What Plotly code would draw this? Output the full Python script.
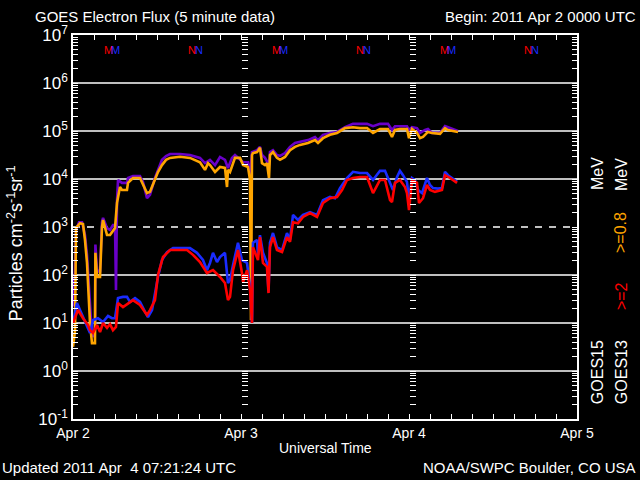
import pandas as pd
import plotly.graph_objects as go

# ---------------- data (hours after 2011-04-02 00:00 UT, flux) ----------------
START = "2011-04-02"
END = "2011-04-05"
day_labels = ["Apr 2", "Apr 3", "Apr 4", "Apr 5"]

goes15_08 = [(0, 87), (0.14, 22), (0.43, 870), (0.86, 1260), (1.29, 1260), (1.71, 680), (2.0, 260), (2.29, 49),
             (2.57, 11.5), (2.86, 5.1), (3.14, 7.1), (3.2, 430), (3.43, 126), (3.86, 115), (4.14, 1260), (4.29, 1550),
             (4.86, 950), (5.29, 870), (5.71, 1100), (6.0, 1100), (6.14, 49), (6.29, 3600), (6.43, 9500), (7.0, 8300),
             (7.71, 8300), (7.86, 10500), (8.57, 11500), (9.57, 11500), (10.0, 8700), (10.57, 4000), (11.0, 4700),
             (11.71, 10500), (12.14, 15500), (12.71, 25100), (13.29, 30200), (13.86, 33100), (15.29, 33100),
             (16.71, 31600), (18.14, 27500), (18.86, 21400), (19.57, 25100), (20.29, 19500), (21.0, 28800),
             (21.71, 25100), (22.14, 17000), (22.71, 27500), (23.14, 31600), (23.86, 25100), (24.29, 22400),
             (25.0, 22400), (25.29, 12000), (25.57, 36300), (26.29, 39800), (26.71, 46800), (27.0, 31600),
             (27.43, 27500), (28.0, 19500), (28.14, 36300), (28.57, 39800), (29.14, 31600), (29.57, 30200),
             (30.29, 34700), (31.0, 46800), (31.71, 56200), (32.43, 58900), (33.57, 64600), (34.57, 75000),
             (35.0, 64600), (35.71, 83200), (36.71, 91200), (37.71, 95500), (38.86, 120000), (40.0, 141000),
             (41.0, 141000), (42.0, 141000), (42.86, 126000), (43.86, 141000), (45.0, 141000), (45.57, 105000),
             (46.0, 126000), (46.71, 126000), (47.71, 126000), (48.0, 105000), (48.43, 120000), (49.14, 115000),
             (49.57, 91200), (50.29, 105000), (50.71, 110000), (51.29, 91200), (52.43, 91200), (53.14, 126000),
             (53.57, 120000), (55.0, 100000)]

goes13_08 = [(0, 3.2), (0.29, 7), (0.43, 950), (0.71, 1050), (1.0, 1200), (1.43, 1150), (1.71, 540), (2.0, 180),
             (2.29, 30), (2.43, 10), (2.71, 3.8), (3.14, 3.8), (3.2, 290), (3.43, 91), (3.86, 91), (4.14, 1000),
             (4.29, 1400), (4.86, 680), (5.29, 680), (5.57, 760), (6.0, 950), (6.29, 3200), (6.71, 6800), (7.0, 5900),
             (7.71, 5900), (7.86, 8300), (8.57, 10500), (9.57, 10500), (10.0, 7500), (10.57, 5100), (11.0, 5400),
             (11.71, 9500), (12.14, 14000), (12.71, 19500), (13.29, 25000), (13.86, 27500), (15.29, 29000),
             (16.71, 27500), (18.14, 22400), (18.86, 15500), (19.29, 21400), (19.57, 19500), (20.29, 14000),
             (21.0, 17800), (21.71, 17000), (22.0, 6800), (22.14, 15500), (22.43, 14000), (23.14, 27500),
             (23.86, 27500), (24.29, 19500), (25.0, 17800), (25.29, 9500), (25.43, 11.5), (25.57, 31600),
             (25.71, 34700), (26.29, 36300), (26.71, 44700), (27.0, 21400), (27.43, 19500), (27.71, 21400),
             (28.0, 10500), (28.14, 31600), (28.57, 36300), (29.14, 27500), (29.57, 25100), (30.29, 28800),
             (31.0, 39800), (31.71, 46800), (32.43, 51300), (33.57, 56200), (34.57, 64600), (35.0, 56200),
             (35.71, 70800), (36.71, 83200), (37.71, 91200), (38.86, 115000), (40.0, 120000), (41.0, 115000),
             (42.0, 115000), (42.86, 91200), (43.86, 110000), (45.0, 110000), (45.57, 75000), (46.0, 105000),
             (46.71, 110000), (47.71, 110000), (48.0, 70800), (48.43, 110000), (49.14, 91200), (49.57, 70800),
             (50.0, 75000), (50.71, 95500), (51.29, 91200), (52.43, 87100), (53.14, 115000), (53.57, 105000),
             (55.0, 95500)]

goes15_2 = [(0, 10), (0.57, 26), (1.0, 18.6), (1.43, 13.3), (2.14, 8.3), (2.43, 6.2), (2.86, 11.5), (3.57, 12.6),
            (4.29, 10.5), (5.0, 14), (5.57, 12.6), (6.0, 12.6), (6.43, 33), (7.14, 35), (7.71, 35), (8.14, 27.5),
            (8.86, 33), (9.57, 27.5), (10.29, 17), (10.71, 13.3), (11.29, 18.6), (11.71, 42), (12.14, 91),
            (12.71, 205), (13.43, 300), (14.29, 363), (15.29, 363), (16.71, 363), (17.71, 290), (18.57, 205),
            (19.14, 126), (19.57, 178), (20.0, 290), (20.57, 186), (21.0, 237), (21.71, 290), (22.14, 68),
            (22.43, 79), (22.86, 162), (23.57, 468), (24.14, 205), (24.86, 178), (25.29, 56), (25.57, 10),
            (25.71, 468), (26.29, 537), (26.43, 263), (26.71, 676), (27.14, 290), (27.71, 178), (27.93, 45),
            (28.14, 468), (28.57, 750), (29.14, 380), (29.86, 331), (30.57, 750), (31.0, 537), (31.43, 1780),
            (32.14, 1410), (32.86, 1780), (33.86, 2040), (34.86, 1780), (35.71, 3630), (36.71, 4220), (37.43, 3980),
            (38.14, 6460), (39.14, 10500), (40.0, 14100), (41.0, 13300), (42.0, 13300), (42.86, 9550),
            (43.86, 14800), (44.57, 14800), (45.29, 8300), (45.71, 5900), (46.29, 11000), (46.71, 14800),
            (47.14, 12000), (47.71, 8700), (48.0, 3630), (48.43, 10500), (48.86, 9550), (49.29, 5900),
            (49.86, 5100), (50.57, 10500), (51.0, 7500), (51.43, 6460), (52.14, 6300), (52.71, 6460),
            (53.14, 14100), (53.57, 12000), (54.14, 10500), (54.86, 8700)]

goes13_2 = [(0, 10), (0.71, 18.6), (1.43, 12.6), (2.14, 9.1), (2.43, 7.1), (2.86, 6.2), (3.43, 9.1), (3.86, 6.5),
            (4.29, 10), (4.86, 7.9), (5.29, 9.5), (5.71, 7.1), (6.14, 8.3), (6.43, 26), (7.14, 21.5), (7.86, 26),
            (8.57, 30), (9.57, 23.7), (10.57, 14.7), (11.0, 18.6), (11.71, 30), (12.14, 100), (12.86, 237),
            (13.86, 331), (14.86, 331), (16.29, 331), (17.14, 263), (18.14, 186), (19.14, 110), (20.0, 126),
            (21.0, 91), (21.71, 68), (22.14, 30), (22.43, 35), (22.86, 126), (23.57, 331), (24.14, 110),
            (24.29, 71), (24.86, 126), (25.29, 49), (25.57, 10), (25.71, 380), (26.43, 205), (26.71, 617),
            (27.14, 178), (27.71, 148), (27.93, 42), (28.14, 380), (28.57, 617), (29.14, 331), (29.86, 302),
            (30.57, 617), (31.0, 490), (31.43, 1260), (32.14, 1200), (32.86, 1620), (33.86, 1950), (34.86, 1620),
            (35.71, 3160), (36.71, 3980), (37.71, 4220), (38.43, 5900), (39.14, 9550), (40.0, 10500),
            (41.0, 11000), (42.0, 11000), (42.86, 5100), (43.86, 9550), (44.57, 9550), (45.29, 3630),
            (45.57, 3310), (46.0, 8300), (46.71, 9550), (47.43, 6800), (47.71, 5100), (48.0, 2240), (48.43, 9550),
            (49.14, 8300), (49.43, 3160), (50.0, 3980), (50.57, 7500), (51.0, 5900), (51.71, 5400), (52.71, 5900),
            (53.14, 12000), (53.86, 10500), (54.86, 8300)]

# satellite local midnight (M) / noon (N) markers, hours after start
goes13_midnight = [5, 29, 53]
goes13_noon = [17, 41, 65]
goes15_midnight = [6, 30, 54]
goes15_noon = [18, 42, 66]

decades = [-1, 0, 1, 2, 3, 4, 5, 6, 7]
threshold = 1000

# ---------------- helpers ----------------
base = pd.Timestamp(START)


def to_time(hours):
    return [base + pd.Timedelta(hours=h) for h in hours]


def unzip(series):
    return to_time([p[0] for p in series]), [p[1] for p in series]


C_PURPLE = "#6a00c8"
C_ORANGE = "#ffa500"
C_BLUE = "#1a2cff"
C_RED = "#ff0000"
FONT = "Liberation Sans"

fig = go.Figure()

# grid lines at decades (borders excluded), threshold dashed
x_span = [pd.Timestamp(START), pd.Timestamp(END)]
for d in decades[1:-1]:
    v = 10.0 ** d
    fig.add_trace(go.Scatter(x=x_span, y=[v, v], mode="lines", hoverinfo="skip", showlegend=False,
                             line=dict(color="white", width=1.5,
                                       dash="7px,7px" if v == threshold else "solid")))

for series, col in [(goes15_08, C_PURPLE), (goes13_08, C_ORANGE), (goes15_2, C_BLUE), (goes13_2, C_RED)]:
    xs, ys = unzip(series)
    fig.add_trace(go.Scatter(x=xs, y=ys, mode="lines", showlegend=False,
                             line=dict(color=col, width=2.6)))

# empty traces so the day-boundary axes are drawn
fig.add_trace(go.Scatter(x=[], y=[], yaxis="y2", showlegend=False))
fig.add_trace(go.Scatter(x=[], y=[], yaxis="y3", showlegend=False))

# ---------------- axes ----------------
x_ticks = pd.date_range(START, END, freq="3h")
day_ticks = list(pd.date_range(START, END, freq="D"))
x_text = [day_labels[day_ticks.index(t)] if t in day_ticks else "" for t in x_ticks]

y_tickvals, y_ticktext = [], []
for d in decades:
    y_tickvals.append(10.0 ** d)
    y_ticktext.append("10<sup>%d</sup>" % d)
    if d < decades[-1]:
        for k in range(2, 10):
            y_tickvals.append(k * 10.0 ** d)
            y_ticktext.append("")

yr = [decades[0], decades[-1]]
total = (pd.Timestamp(END) - pd.Timestamp(START)).total_seconds()
day_pos = [(t - pd.Timestamp(START)).total_seconds() / total for t in day_ticks[1:-1]]

fig.update_layout(
    width=640, height=480,
    margin=dict(l=73, r=63, t=35, b=61, autoexpand=False),
    paper_bgcolor="black", plot_bgcolor="black",
    font=dict(family=FONT, color="white", size=14),
    showlegend=False,
    xaxis=dict(type="date", range=x_span, tickmode="array", tickvals=list(x_ticks), ticktext=x_text,
               ticks="inside", ticklen=5, tickcolor="white", tickwidth=1.2, showgrid=False, zeroline=False,
               showline=True, linecolor="white", linewidth=1.5, mirror="ticks",
               tickfont=dict(size=14, family=FONT, color="white")),
    yaxis=dict(type="log", range=yr, tickmode="array", tickvals=y_tickvals, ticktext=y_ticktext,
               ticks="inside", ticklen=5, tickcolor="white", tickwidth=1.2, showgrid=False, zeroline=False,
               showline=True, linecolor="white", linewidth=1.5, mirror="ticks",
               tickfont=dict(size=17, family=FONT, color="white")),
    yaxis2=dict(type="log", range=yr, overlaying="y", anchor="free", position=day_pos[0], side="left",
                tickmode="array", tickvals=y_tickvals, ticktext=[""] * len(y_tickvals),
                ticks="inside", ticklen=6, tickcolor="white", tickwidth=1.2, showline=False,
                showgrid=False, zeroline=False, showticklabels=False),
    yaxis3=dict(type="log", range=yr, overlaying="y", anchor="free", position=day_pos[1], side="left",
                tickmode="array", tickvals=y_tickvals, ticktext=[""] * len(y_tickvals),
                ticks="inside", ticklen=6, tickcolor="white", tickwidth=1.2, showline=False,
                showgrid=False, zeroline=False, showticklabels=False),
)

# ---------------- text ----------------
ann = []


def txt(text, x, y, xa="center", ya="middle", size=14, color="white", angle=0):
    ann.append(dict(text=text, x=x, y=y, xref="paper", yref="paper", xanchor=xa, yanchor=ya,
                    showarrow=False, textangle=angle, font=dict(family=FONT, size=size, color=color)))


txt("GOES Electron Flux (5 minute data)", -0.079, 1.047, xa="left", size=15)
txt("Begin: 2011 Apr 2 0000 UTC", 1.121, 1.047, xa="right", size=15)
txt("Universal Time", 0.5, -0.0755, size=14)
txt("Updated 2011 Apr\u00a0 4 07:21:24 UTC", -0.1448, -0.125, xa="left", size=15)
txt("NOAA/SWPC Boulder, CO USA", 1.121, -0.125, xa="right", size=15)
txt("Particles cm<sup>-2</sup>s<sup>-1</sup>sr<sup>-1</sup>", -0.115, 0.458, size=18, angle=-90)

txt("MeV", 1.0397, 0.638, size=16, angle=-90)
txt("GOES15", 1.0397, 0.122, size=16, angle=-90)
txt("MeV", 1.0873, 0.638, size=16, angle=-90)
txt("&gt;=0.8", 1.0873, 0.487, size=16, angle=-90, color=C_ORANGE)
txt("&gt;=2", 1.0873, 0.320, size=16, angle=-90, color=C_RED)
txt("GOES13", 1.0873, 0.122, size=16, angle=-90)

for hrs, letter, col in [(goes13_midnight, "M", C_RED), (goes15_midnight, "M", C_BLUE),
                         (goes13_noon, "N", C_RED), (goes15_noon, "N", C_BLUE)]:
    for t in to_time(hrs):
        if t <= pd.Timestamp(END):
            ann.append(dict(text=letter, x=t, y=0.961, xref="x", yref="paper", showarrow=False,
                            xanchor="center", yanchor="middle",
                            font=dict(family=FONT, size=11, color=col)))

fig.update_layout(annotations=ann)
fig.write_html("out.html", config={"displayModeBar": False},
               post_script="document.body.style.margin='0';document.body.style.overflow='hidden';")
